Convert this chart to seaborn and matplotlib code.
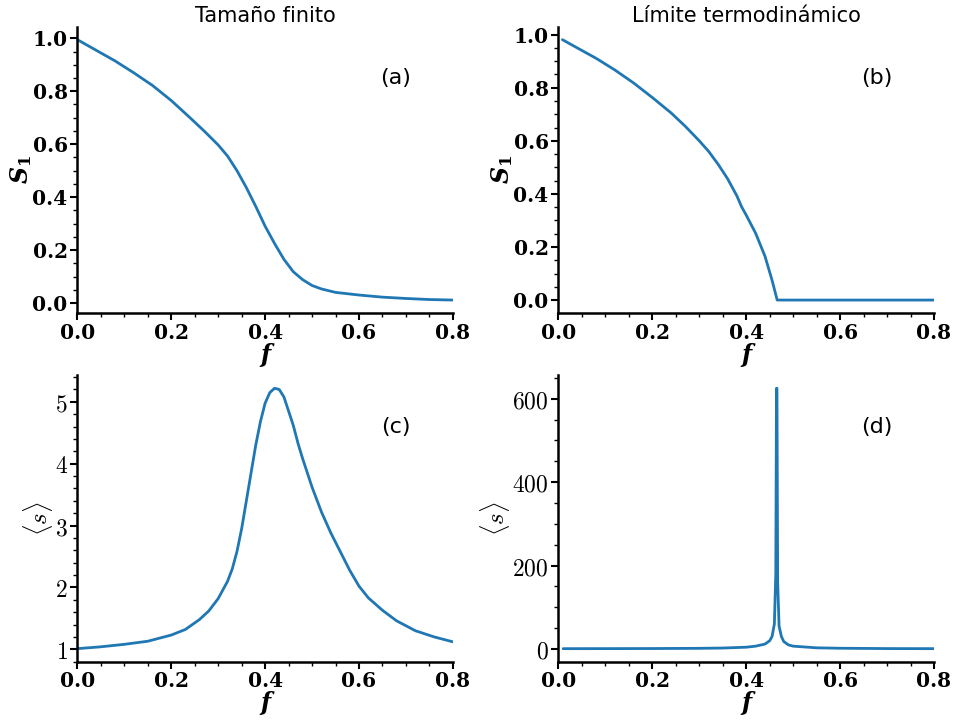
import numpy as np
import pandas as pd
import seaborn as sns
import matplotlib
matplotlib.use("Agg")
import matplotlib.pyplot as plt
from matplotlib.ticker import AutoMinorLocator, FuncFormatter

# ---- data ----
f_a = [0.00, 0.04, 0.08, 0.12, 0.16, 0.20, 0.24, 0.27, 0.30, 0.32, 0.34, 0.36, 0.38,
       0.40, 0.42, 0.44, 0.46, 0.48, 0.50, 0.52, 0.55, 0.60, 0.65, 0.70, 0.75, 0.80]
S_a = [0.995, 0.955, 0.915, 0.870, 0.822, 0.765, 0.700, 0.650, 0.597, 0.555, 0.500,
       0.436, 0.365, 0.290, 0.225, 0.165, 0.118, 0.088, 0.066, 0.053, 0.040, 0.030,
       0.022, 0.017, 0.013, 0.011]

f_b = [0.0085, 0.04, 0.08, 0.12, 0.16, 0.20, 0.24, 0.27, 0.30, 0.32, 0.34, 0.36, 0.38,
       0.39, 0.40, 0.42, 0.44, 0.455, 0.466, 0.50, 0.60, 0.70, 0.80]
S_b = [0.981, 0.950, 0.911, 0.867, 0.818, 0.763, 0.705, 0.655, 0.600, 0.560, 0.512,
       0.458, 0.393, 0.352, 0.320, 0.252, 0.165, 0.075, 0.0, 0.0, 0.0, 0.0, 0.0]

f_c = [0.00, 0.05, 0.10, 0.15, 0.20, 0.23, 0.26, 0.28, 0.30, 0.32, 0.33, 0.34, 0.35,
       0.36, 0.37, 0.38, 0.39, 0.40, 0.41, 0.42, 0.43, 0.44, 0.45, 0.46, 0.47, 0.48,
       0.50, 0.52, 0.54, 0.56, 0.58, 0.60, 0.62, 0.65, 0.68, 0.72, 0.76, 0.80]
s_c = [1.01, 1.04, 1.08, 1.13, 1.23, 1.32, 1.48, 1.62, 1.82, 2.10, 2.30, 2.58, 2.95,
       3.40, 3.85, 4.30, 4.68, 4.98, 5.15, 5.22, 5.20, 5.08, 4.85, 4.62, 4.33, 4.08,
       3.62, 3.22, 2.88, 2.58, 2.28, 2.02, 1.83, 1.63, 1.46, 1.30, 1.20, 1.12]

f_d = [0.01, 0.1, 0.2, 0.3, 0.35, 0.4, 0.42, 0.44, 0.45, 0.455, 0.46, 0.463, 0.4645,
       0.4655, 0.467, 0.47, 0.475, 0.48, 0.49, 0.5, 0.55, 0.6, 0.7, 0.8]
s_d = [1.0, 1.1, 1.3, 1.8, 2.5, 4.5, 7.0, 12.0, 20.0, 30.0, 60.0, 180.0, 625.0,
       625.0, 160.0, 55.0, 30.0, 18.0, 10.0, 7.0, 3.0, 2.0, 1.2, 1.0]

titles = ["Tamaño finito", "Límite termodinámico"]
panel_tags = ["(a)", "(b)", "(c)", "(d)"]
xticks = [0.0, 0.2, 0.4, 0.6, 0.8]

sns.set_theme(style="ticks")
plt.rcParams["font.family"] = ["DejaVu Sans"]
plt.rcParams["mathtext.fontset"] = "custom"
plt.rcParams["mathtext.rm"] = "DejaVu Serif"
plt.rcParams["mathtext.it"] = "DejaVu Serif:italic"
plt.rcParams["mathtext.bf"] = "DejaVu Serif:bold"
plt.rcParams["text.color"] = "black"
plt.rcParams["axes.labelcolor"] = "black"
plt.rcParams["axes.linewidth"] = 1.8
plt.rcParams["xtick.major.width"] = 1.5
plt.rcParams["ytick.major.width"] = 1.5
plt.rcParams["xtick.minor.width"] = 1.0
plt.rcParams["ytick.minor.width"] = 1.0
plt.rcParams["xtick.major.size"] = 5
plt.rcParams["ytick.major.size"] = 5
plt.rcParams["xtick.minor.size"] = 3
plt.rcParams["ytick.minor.size"] = 3
plt.rcParams["xtick.color"] = "black"
plt.rcParams["ytick.color"] = "black"
plt.rcParams["axes.edgecolor"] = "black"

fig, axes = plt.subplots(2, 2, figsize=(9.55, 7.2), dpi=100)
fig.subplots_adjust(left=0.081, right=0.978, top=0.963, bottom=0.081,
                    wspace=0.281, hspace=0.217)

color = "#1f77b4"
datasets = [(f_a, S_a), (f_b, S_b), (f_c, s_c), (f_d, s_d)]
fmt1 = FuncFormatter(lambda v, p: "%.1f" % v)
int_fmt = FuncFormatter(lambda v, p: r"$%d$" % round(v))
serif_bold = dict(family="DejaVu Serif", weight="bold", size=14.5)

for i, ax in enumerate(axes.flat):
    fx, fy = datasets[i]
    df = pd.DataFrame({"f": fx, "y": fy})
    sns.lineplot(data=df, x="f", y="y", ax=ax, color=color, linewidth=2.0,
                 sort=False, estimator=None)
    ax.set_xlim(0, 0.8)
    ax.set_xticks(xticks)
    ax.xaxis.set_minor_locator(AutoMinorLocator())
    ax.yaxis.set_minor_locator(AutoMinorLocator())
    ax.xaxis.set_major_formatter(fmt1)
    ax.tick_params(axis="both", which="major", pad=2)
    for lab in ax.get_xticklabels():
        lab.set_fontproperties(serif_bold)
    ax.set_xlabel("f", family="DejaVu Serif", style="italic", weight="bold",
                  fontsize=17, labelpad=0)
    if i < 2:
        ax.set_yticks([0.0, 0.2, 0.4, 0.6, 0.8, 1.0])
        ax.yaxis.set_major_formatter(fmt1)
        for lab in ax.get_yticklabels():
            lab.set_fontproperties(serif_bold)
        ax.set_ylabel(r"S$_\mathbf{1}$", family="DejaVu Serif", style="italic",
                      weight="bold", fontsize=17, labelpad=-1)
        ax.set_title(titles[i], fontsize=15, pad=3)
    else:
        if i == 2:
            ax.set_yticks([1, 2, 3, 4, 5])
        else:
            ax.set_yticks([0, 200, 400, 600])
        ax.yaxis.set_major_formatter(int_fmt)
        for lab in ax.get_yticklabels():
            lab.set_math_fontfamily("cm")
            lab.set_fontsize(17)
        ax.set_ylabel(r"$\langle s \rangle$", fontsize=18, labelpad=0,
                      math_fontfamily="cm")
    ax.text(0.848, 0.82, panel_tags[i], transform=ax.transAxes, fontsize=16,
            ha="center", va="center")
    sns.despine(ax=ax)

fig.savefig("out.png", dpi=100)
